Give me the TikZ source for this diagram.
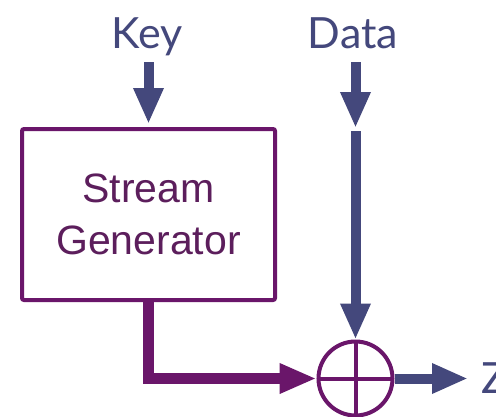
\documentclass[tikz,border=0pt]{standalone}
\usepackage{fontspec}
\setmainfont{Liberation Sans}
\newfontfamily\labelfont{Lato}
\usetikzlibrary{arrows.meta}

\definecolor{navy}{RGB}{68,72,124}
\definecolor{plum}{RGB}{106,22,106}
\definecolor{plumtext}{RGB}{92,30,92}

\tikzset{
  inlabel/.style={inner sep=0pt, text=navy, font=\labelfont\fontsize{43}{50}\selectfont},
  genbox/.style={draw=plum, line width=4pt, rounded corners=2pt,
    minimum width=253pt, minimum height=171pt, inner sep=0pt,
    align=center, text=plumtext, font=\fontsize{41}{52}\selectfont},
  xorring/.style={draw=plum, line width=4pt, circle, minimum size=74pt, inner sep=0pt},
  navyarrow/.style={draw=navy, line width=10pt,
    -{Triangle[length=36pt, width=28pt]}},
  plumarrow/.style={draw=plum, line width=10.5pt,
    -{Triangle[length=37pt, width=28pt]}}
}

\begin{document}
\begin{tikzpicture}[x=1pt, y=-1pt]
  \useasboundingbox[fill=white] (0,0) rectangle (496,416);

  % inputs, blocks and output
  \node[inlabel, anchor=base] (key)  at (147.5,48) {Key};
  \node[inlabel, anchor=base] (data) at (353,48)   {Data};
  \node[genbox] (gen) at (148.5,214.5) {Stream\\Generator};
  \node[xorring] (xor) at (355.5,378.5) {};
  \node[inlabel, anchor=base west] (z) at (481,393) {Z};

  % the XOR cross
  \draw[plum, line width=4pt] ([yshift=37pt]xor.center) -- ([yshift=-37pt]xor.center);
  \draw[plum, line width=4pt] ([xshift=-37pt]xor.center) -- ([xshift=37pt]xor.center);

  % key into the generator
  \draw[navyarrow, shorten >=3pt] ([yshift=-14pt]key.base -| gen.north) -- (gen.north);

  % data down to the combiner, drawn in two pieces
  \coordinate (dmid) at (xor.north |- 0,128);
  \draw[navyarrow] ([yshift=-14pt]data.base -| xor.north) -- (dmid);
  \draw[navyarrow, shorten <=3pt] (dmid) -- (xor.north);

  % keystream into the combiner
  \draw[plumarrow] (gen.south) |- (xor.west);

  % combined output
  \draw[navyarrow, shorten >=13pt] (xor.east) -- (z.west |- xor.east);
\end{tikzpicture}
\end{document}
